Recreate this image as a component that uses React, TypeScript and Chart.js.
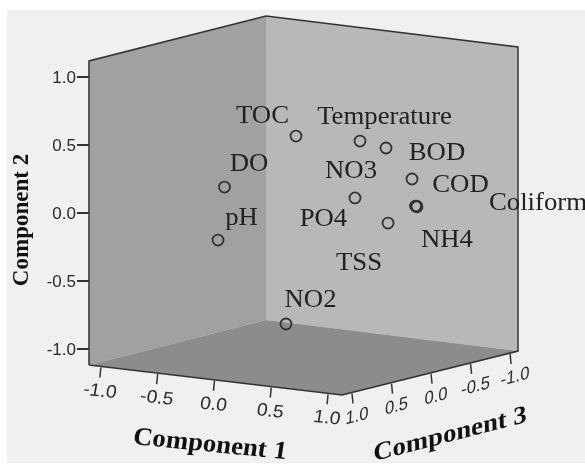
import React, { useEffect, useRef } from "react";
import { Chart, registerables } from "chart.js";

Chart.register(...registerables);

const variables = ["TOC", "Temperature", "BOD", "DO", "NO3", "COD", "Coliform", "pH", "PO4", "NH4", "TSS", "NO2"];
const pointX = [0.718, 1.282, 1.511, 0.088, 1.238, 1.74, 1.771, 0.031, 1.529, 1.78, 1.784, 0.63];
const pointY = [0.566, 0.529, 0.478, 0.191, 0.111, 0.25, 0.051, -0.199, -0.074, 0.051, 0.046, -0.816];
const labelX = [0.423, 1.498, 1.96, 0.304, 1.203, 2.167, 2.85, 0.238, 0.96, 2.048, 1.273, 0.846];
const labelY = [0.721, 0.713, 0.449, 0.368, 0.316, 0.213, 0.074, -0.029, -0.037, -0.191, -0.36, -0.632];

const ticks2 = [1.0, 0.5, 0.0, -0.5, -1.0];
const ticks1 = [-1.0, -0.5, 0.0, 0.5, 1.0];
const ticks3 = [1.0, 0.5, 0.0, -0.5, -1.0];

const leftTop = [-1.106, 1.118];
const backTop = [0.454, 1.449];
const backBottom = [0.454, -0.787];
const leftBottom = [-1.106, -1.118];
const rightTop = [2.674, 1.221];
const rightBottom = [2.674, -1.015];
const frontBottom = [1.123, -1.338];

const boxPlugin = {
  id: "box",
  beforeDatasetsDraw(chart: any) {
    const { ctx, scales } = chart;
    const P = (p: number[]) => [scales.x.getPixelForValue(p[0]), scales.y.getPixelForValue(p[1])];
    const poly = (pts: number[][], fill: string) => {
      ctx.beginPath();
      pts.map(P).forEach((p, i) => (i ? ctx.lineTo(p[0], p[1]) : ctx.moveTo(p[0], p[1])));
      ctx.closePath();
      ctx.fillStyle = fill;
      ctx.fill();
    };
    const line = (pts: number[][]) => {
      ctx.beginPath();
      pts.map(P).forEach((p, i) => (i ? ctx.lineTo(p[0], p[1]) : ctx.moveTo(p[0], p[1])));
      ctx.stroke();
    };
    ctx.save();
    ctx.fillStyle = "#f0f0f0";
    ctx.fillRect(7, 10, 578, 453);
    poly([leftTop, backTop, backBottom, leftBottom], "#a1a1a1");
    poly([backTop, rightTop, rightBottom, backBottom], "#b8b8b8");
    poly([leftBottom, backBottom, rightBottom, frontBottom], "#8c8c8c");
    ctx.strokeStyle = "#333";
    ctx.lineWidth = 1.5;
    line([leftBottom, leftTop, backTop, rightTop, rightBottom, frontBottom, leftBottom]);

    const edgeTick = (a: number[], b: number[], t: number) => {
      const pa = P(a), pb = P(b);
      return [pa[0] + (pb[0] - pa[0]) * t, pa[1] + (pb[1] - pa[1]) * t];
    };
    ctx.textBaseline = "middle";
    ctx.textAlign = "center";
    ctx.fillStyle = "#2a2a2a";
    ctx.font = "17px 'Liberation Sans'";
    const leftPx = P(leftTop)[0];
    ticks2.forEach((v) => {
      const y = scales.y.getPixelForValue(v);
      ctx.lineWidth = 2;
      ctx.beginPath();
      ctx.moveTo(leftPx - 12, y);
      ctx.lineTo(leftPx, y);
      ctx.stroke();
      ctx.textAlign = "right";
      ctx.fillText(v.toFixed(1), leftPx - 13, y + 1);
    });
    ctx.lineWidth = 1.5;
    ctx.textAlign = "center";
    ticks1.forEach((v) => {
      const t = 0.047 + ((v + 1) / 2) * 0.898;
      const p = edgeTick(leftBottom, frontBottom, t);
      ctx.beginPath();
      ctx.moveTo(p[0], p[1] + 1);
      ctx.lineTo(p[0] - 1, p[1] + 11);
      ctx.stroke();
      ctx.save();
      ctx.transform(1.13, 0.12, -0.18, 1.05, p[0] - 1, p[1] + 25);
      ctx.fillText(v.toFixed(1), 0, 0);
      ctx.restore();
    });
    ticks3.forEach((v) => {
      const t = 0.057 + ((1 - v) / 2) * 0.898;
      const p = edgeTick(frontBottom, rightBottom, t);
      ctx.beginPath();
      ctx.moveTo(p[0], p[1] + 1);
      ctx.lineTo(p[0] + 1, p[1] + 11);
      ctx.stroke();
      ctx.save();
      ctx.transform(0.98, -0.26, -0.05, 1.08, p[0] + 5, p[1] + 24);
      ctx.fillText(v.toFixed(1), 0, 0);
      ctx.restore();
    });

    ctx.fillStyle = "#111";
    ctx.font = "bold 23px 'Liberation Serif'";
    ctx.save();
    ctx.translate(22, 220);
    ctx.rotate(-Math.PI / 2);
    ctx.fillText("Component 2", 0, 0);
    ctx.restore();
    ctx.save();
    ctx.transform(1.16, 0.115, -0.16, 1.1, 210, 445);
    ctx.fillText("Component 1", 0, 0);
    ctx.restore();
    ctx.save();
    ctx.transform(1.16, -0.3, 0.03, 1.1, 450, 435);
    ctx.fillText("Component 3", 0, 0);
    ctx.restore();
    ctx.restore();
  },
  afterDatasetsDraw(chart: any) {
    const { ctx, scales } = chart;
    ctx.save();
    ctx.fillStyle = "#222";
    ctx.font = "25px 'Liberation Serif'";
    ctx.textAlign = "center";
    ctx.textBaseline = "middle";
    variables.forEach((name, i) => {
      ctx.save();
      ctx.translate(scales.x.getPixelForValue(labelX[i]), scales.y.getPixelForValue(labelY[i]) + 1);
      ctx.scale(1.07, 1);
      ctx.fillText(name, 0, 0);
      ctx.restore();
    });
    ctx.restore();
  },
};

export default function App() {
  const ref = useRef<HTMLCanvasElement>(null);
  useEffect(() => {
    document.body.style.margin = "0";
    const chart = new Chart(ref.current as HTMLCanvasElement, {
      type: "scatter",
      data: {
        datasets: [
          {
            label: "Loadings",
            data: variables.map((_, i) => ({ x: pointX[i], y: pointY[i] })),
            pointStyle: "circle",
            pointRadius: 5.5,
            pointBorderWidth: 1.8,
            pointBorderColor: "#333",
            pointBackgroundColor: "rgba(0,0,0,0)",
          },
        ],
      },
      options: {
        animation: false,
        responsive: false,
        layout: { padding: 0, autoPadding: false },
        plugins: { legend: { display: false }, tooltip: { enabled: false } },
        scales: {
          x: { type: "linear", display: false, min: -1.8899, max: 3.2643 },
          y: { type: "linear", display: false, min: -1.8456, max: 1.5662 },
        },
      },
      plugins: [boxPlugin],
    } as any);
    return () => chart.destroy();
  }, []);
  return <canvas ref={ref} width={585} height={464} style={{ display: "block", filter: "blur(0.4px)" }} />;
}
